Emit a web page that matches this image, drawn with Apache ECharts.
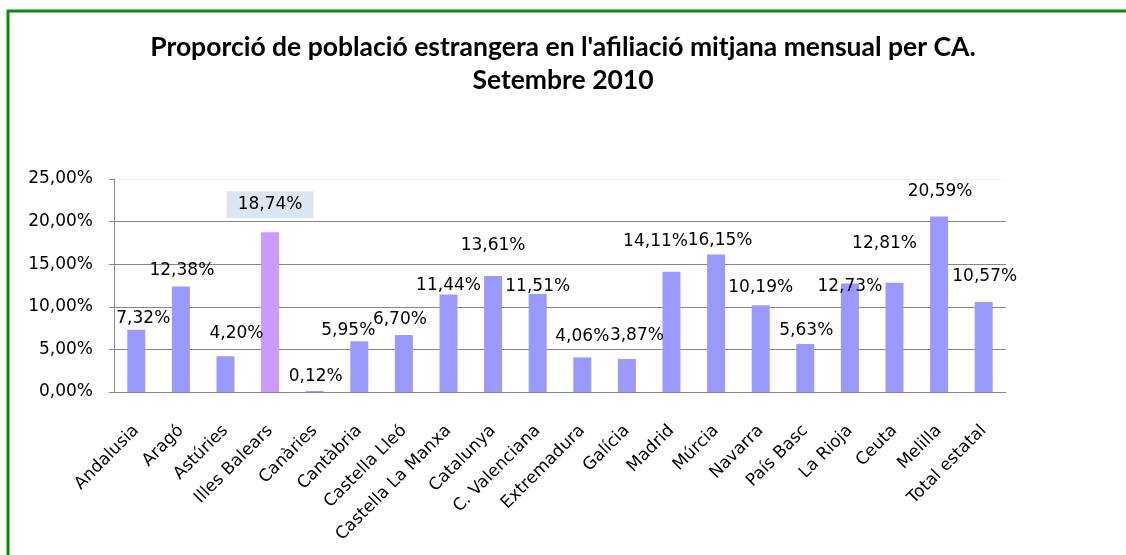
<!DOCTYPE html>
<html lang="ca">
<head>
<meta charset="UTF-8">
<title>Proporció de població estrangera</title>
<script src="https://cdn.jsdelivr.net/npm/echarts@6/dist/echarts.min.js"></script>
<style>
  html, body { margin: 0; padding: 0; background: #fff; }
  #main { width: 1126px; height: 555px; }
</style>
</head>
<body>
<div id="main"></div>
<script>
// dades
var categories = ['Andalusia', 'Aragó', 'Astúries', 'Illes Balears', 'Canàries', 'Cantàbria',
  'Castella Lleó', 'Castella La Manxa', 'Catalunya', 'C. Valenciana', 'Extremadura', 'Galícia',
  'Madrid', 'Múrcia', 'Navarra', 'País Basc', 'La Rioja', 'Ceuta', 'Melilla', 'Total estatal'];
var values = [7.32, 12.38, 4.20, 18.74, 0.12, 5.95, 6.70, 11.44, 13.61, 11.51, 4.06, 3.87,
  14.11, 16.15, 10.19, 5.63, 12.73, 12.81, 20.59, 10.57];
var highlighted = 'Illes Balears';
var yTicks = [0, 5, 10, 15, 20, 25];

// desplaçament de les etiquetes (com a l'original de l'Excel)
var labelOffsets = [[7, -3], [1, -7], [11, -14], [0, -14], [1, -6], [-11, -2], [-4, -7], [0, 0],
  [0, -22], [0, 1], [0, -12], [10, -15], [-16, -22], [4, -5], [0, -9], [1, -5], [0, 12],
  [-10, -31], [1, -16], [1, -17]];

function pct(v) {
  return v.toFixed(2).replace('.', ',') + '%';
}

var seriesData = values.map(function (v, i) {
  var item = { value: v, label: { offset: labelOffsets[i] } };
  if (categories[i] === highlighted) {
    item.itemStyle = { color: '#CC99FF' };
    item.label.backgroundColor = '#DCE6F2';
    item.label.padding = [5, 11];
  }
  return item;
});

var myChart = echarts.init(document.getElementById('main'));
var option = {
  animation: false,
  title: {
    text: "Proporció de població estrangera en l'afiliació mitjana mensual per CA.\nSetembre 2010",
    left: 'center',
    top: 26,
    textStyle: { fontFamily: 'Lato', fontWeight: 'bold', fontSize: 26.5, lineHeight: 33, color: '#000' }
  },
  graphic: [{
    type: 'rect',
    shape: { x: 8, y: 11, width: 1200, height: 600 },
    style: { fill: 'none', stroke: '#0b8a0b', lineWidth: 3 },
    silent: true
  }],
  grid: { left: 114, right: 120, top: 179, bottom: 163 },
  xAxis: {
    type: 'category',
    data: categories,
    axisLine: { lineStyle: { color: '#868686' } },
    axisTick: { length: 5, lineStyle: { color: '#868686' } },
    axisLabel: {
      interval: 0, rotate: 45, margin: 36,
      fontFamily: 'DejaVu Sans', fontSize: 17, color: '#000'
    }
  },
  yAxis: {
    type: 'value',
    min: yTicks[0],
    max: yTicks[yTicks.length - 1],
    interval: 5,
    axisLine: { show: true, lineStyle: { color: '#868686' } },
    axisTick: { show: true, length: 5, lineStyle: { color: '#868686' } },
    axisLabel: {
      margin: 21, fontFamily: 'DejaVu Sans', fontSize: 17, color: '#000',
      formatter: function (v) { return pct(v); }
    },
    splitLine: { lineStyle: { color: ['#868686', '#868686', '#868686', '#868686', '#868686', '#f2f2f2'] } }
  },
  series: [{
    type: 'bar',
    data: seriesData,
    barWidth: 18,
    itemStyle: { color: '#9999FF' },
    label: {
      show: true,
      position: 'top',
      distance: 0,
      fontFamily: 'DejaVu Sans',
      fontSize: 17,
      color: '#000',
      formatter: function (p) { return pct(p.value); }
    }
  }]
};
myChart.setOption(option);
</script>
</body>
</html>
